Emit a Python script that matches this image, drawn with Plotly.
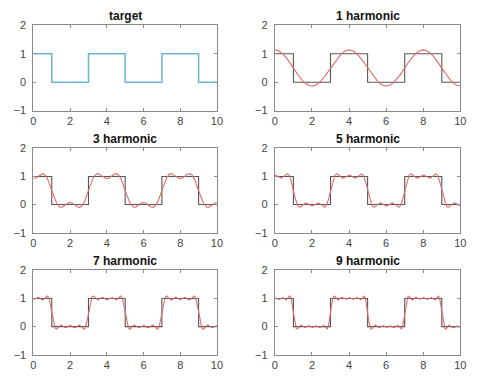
import numpy as np
import plotly.graph_objects as go

# Square-wave target (step edges and levels)
step_x = [0, 1, 3, 5, 7, 9, 10]
step_y = [1, 0, 1, 0, 1, 0, 0]

# Fourier series of the target: DC level, odd harmonic numbers, cosine amplitudes
period = 4.0
dc_level = 0.5
harmonic_numbers = [1, 3, 5, 7, 9]
harmonic_amps = [0.6366, -0.2122, 0.1273, -0.0909, 0.0707]

panel_titles = ["target", "1 harmonic", "3 harmonic", "5 harmonic", "7 harmonic", "9 harmonic"]
panel_orders = [0, 1, 3, 5, 7, 9]

x_ticks = [0, 2, 4, 6, 8, 10]
y_ticks = [-1, 0, 1, 2]

x_fine = np.linspace(0, 10, 801)


def partial_sum(order):
    y = np.full_like(x_fine, dc_level)
    for n, a in zip(harmonic_numbers, harmonic_amps):
        if n <= order:
            y = y + a * np.cos(2 * np.pi * n * x_fine / period)
    return y


W, H = 485, 382
col_dom = [(31 / W, 218 / W), (277 / W, 466 / W)]
row_px = [(20, 108), (147, 234), (273, 360)]
row_dom = [(1 - b / H, 1 - t / H) for t, b in row_px]

FONT = "Liberation Sans, Arial, sans-serif"

fig = go.Figure()
annotations = []
for i, (title, order) in enumerate(zip(panel_titles, panel_orders)):
    r, c = divmod(i, 2)
    k = i + 1
    xa = "x" if k == 1 else f"x{k}"
    ya = "y" if k == 1 else f"y{k}"
    if order == 0:
        fig.add_trace(go.Scatter(x=step_x, y=step_y, mode="lines", line_shape="hv",
                                 line=dict(color="#6cb4cc", width=1.5),
                                 xaxis=xa, yaxis=ya, showlegend=False))
    else:
        fig.add_trace(go.Scatter(x=step_x, y=step_y, mode="lines", line_shape="hv",
                                 line=dict(color="#555555", width=1.1),
                                 xaxis=xa, yaxis=ya, showlegend=False))
        fig.add_trace(go.Scatter(x=x_fine, y=partial_sum(order), mode="lines",
                                 line=dict(color="#e26a6a", width=1.1),
                                 xaxis=xa, yaxis=ya, showlegend=False))
    axcommon = dict(showgrid=False, zeroline=False, showline=True, linecolor="#8a8a8a",
                    linewidth=1, mirror="ticks", ticks="inside", ticklen=3,
                    tickcolor="#8a8a8a",
                    tickfont=dict(family=FONT, size=11, color="#444444"))
    xkey = "xaxis" if k == 1 else f"xaxis{k}"
    ykey = "yaxis" if k == 1 else f"yaxis{k}"
    fig.update_layout({
        xkey: dict(axcommon, domain=list(col_dom[c]), range=[0, 10], tickvals=x_ticks,
                   anchor=ya),
        ykey: dict(axcommon, domain=list(row_dom[r]), range=[-1, 2], tickvals=y_ticks,
                   anchor=xa, ticklabelstandoff=4),
    })
    annotations.append(dict(text=f"<b>{title}</b>", x=(col_dom[c][0] + col_dom[c][1]) / 2,
                            y=row_dom[r][1], xref="paper", yref="paper",
                            xanchor="center", yanchor="bottom", yshift=0, showarrow=False,
                            font=dict(family=FONT, size=12, color="#111111")))

fig.update_layout(width=W, height=H, margin=dict(l=0, r=0, t=0, b=0),
                  paper_bgcolor="white", plot_bgcolor="white", annotations=annotations)
fig.write_html("out.html", config={"displayModeBar": False},
               post_script="document.body.style.margin='0px';")
